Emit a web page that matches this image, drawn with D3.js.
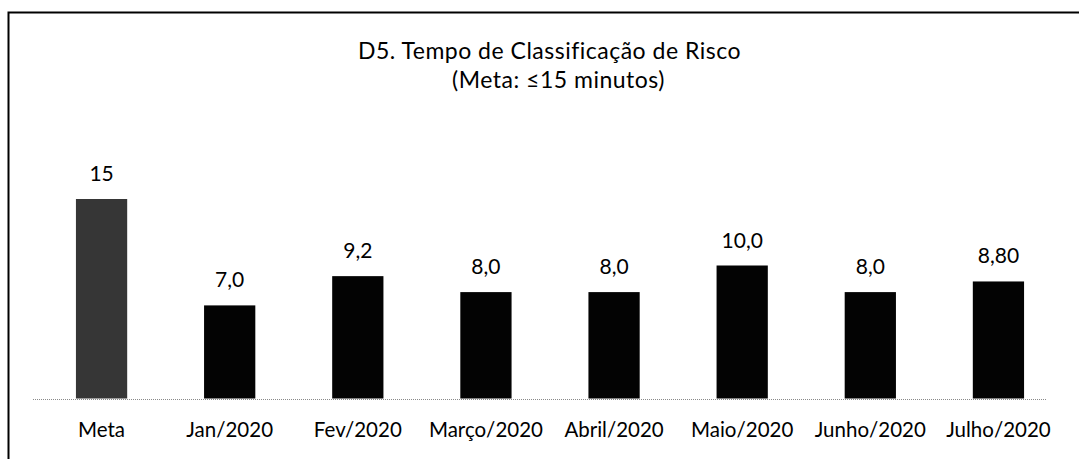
<!DOCTYPE html>
<html>
<head>
<meta charset="utf-8">
<script src="https://cdn.jsdelivr.net/npm/d3@7"></script>
<style>
  html, body { margin: 0; padding: 0; background: #fff; }
  svg text { font-family: Lato, "Open Sans", sans-serif; fill: #000; }
</style>
</head>
<body>
<div class="chart"></div>
<script>
// chart data
var categories = ["Meta", "Jan/2020", "Fev/2020", "Março/2020", "Abril/2020", "Maio/2020", "Junho/2020", "Julho/2020"];
var values = [15, 7.0, 9.2, 8.0, 8.0, 10.0, 8.0, 8.8];
var valueLabels = ["15", "7,0", "9,2", "8,0", "8,0", "10,0", "8,0", "8,80"];
var titleLines = ["D5. Tempo de Classificação de Risco", "(Meta: ≤15 minutos)"];

var width = 1079, height = 459;

var svg = d3.select(".chart").append("svg")
  .attr("width", width)
  .attr("height", height);

// frame (only top and left edges show in the scan)
svg.append("path")
  .attr("d", "M" + width + ",12.5H8.5V" + height)
  .attr("fill", "none")
  .attr("stroke", "#000")
  .attr("stroke-width", 2);

// title
svg.append("text")
  .attr("x", 549.5).attr("y", 59)
  .attr("text-anchor", "middle")
  .style("font-size", "23px")
  .style("letter-spacing", "0.5px")
  .text(titleLines[0]);
svg.append("text")
  .attr("x", 558.5).attr("y", 88)
  .attr("text-anchor", "middle")
  .style("font-size", "23px")
  .style("letter-spacing", "0.5px")
  .text(titleLines[1]);

var x = d3.scaleBand()
  .domain(categories)
  .range([37.5, 1062.5])
  .paddingInner(0.6)
  .paddingOuter(0.3);

var y = d3.scaleLinear()
  .domain([0, 15])
  .range([398.5, 199]);

// bars
svg.append("g").selectAll("rect")
  .data(values)
  .enter().append("rect")
  .attr("x", function(d, i) { return x(categories[i]); })
  .attr("y", function(d) { return y(d); })
  .attr("width", x.bandwidth())
  .attr("height", function(d) { return y(0) - y(d); })
  .attr("fill", function(d, i) { return i == 0 ? "#363636" : "#030303"; });

// dotted baseline
svg.append("line")
  .attr("x1", 33).attr("x2", 1047)
  .attr("y1", y(0) + 1).attr("y2", y(0) + 1)
  .attr("stroke", "#8a8a8a")
  .attr("stroke-width", 1)
  .attr("stroke-dasharray", "1,1");

// value labels
svg.append("g").selectAll("text")
  .data(values)
  .enter().append("text")
  .attr("x", function(d, i) { return x(categories[i]) + x.bandwidth() / 2; })
  .attr("y", function(d) { return y(d) - 18; })
  .attr("text-anchor", "middle")
  .style("font-size", "21px")
  .text(function(d, i) { return valueLabels[i]; });

// category labels
svg.append("g").selectAll("text")
  .data(categories)
  .enter().append("text")
  .attr("x", function(d) { return x(d) + x.bandwidth() / 2; })
  .attr("y", 437)
  .attr("text-anchor", "middle")
  .style("font-size", "20.5px")
  .text(function(d) { return d; });
</script>
</body>
</html>
